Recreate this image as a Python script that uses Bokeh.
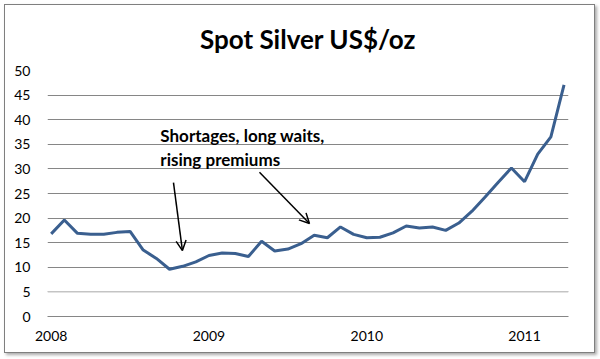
from bokeh.plotting import figure
from bokeh.models import FixedTicker, Range1d, Label, Arrow, OpenHead, Span
from bokeh.embed import file_html
from bokeh.resources import INLINE

# Monthly spot silver, Jan 2008 .. Apr 2011 (US$/oz)
month_index = list(range(40))
silver = [16.8, 19.6, 16.9, 16.7, 16.7, 17.1, 17.3, 13.5, 11.8, 9.6,
          10.2, 11.1, 12.4, 12.9, 12.8, 12.2, 15.3, 13.3, 13.7, 14.8,
          16.5, 16.0, 18.2, 16.7, 16.0, 16.1, 17.0, 18.4, 18.0, 18.2,
          17.5, 19.0, 21.4, 24.3, 27.3, 30.2, 27.4, 33.0, 36.5, 47.1]
year_ticks = [0, 12, 24, 36]
year_labels = ["2008", "2009", "2010", "2011"]
y_ticks = [0, 5, 10, 15, 20, 25, 30, 35, 40, 45, 50]

FONT = "Lato"
GRID = "#868686"

p = figure(width=591, height=349, output_backend="svg", toolbar_location=None,
           x_range=Range1d(-0.28, 39.34), y_range=Range1d(0, 50),
           min_border_left=42, min_border_right=28, min_border_top=65,
           min_border_bottom=38)

p.title.text = "Spot Silver US$/oz"
p.title.align = "center"
p.title.text_font = FONT
p.title.text_font_size = "26px"
p.title.text_font_style = "bold"
p.title.text_color = "black"
p.title.standoff = 31

p.line(month_index, silver, line_color="#3a5f8f", line_width=3)

p.outline_line_color = None
p.background_fill_color = "white"
p.border_fill_color = "white"

p.xgrid.grid_line_color = None
p.ygrid.grid_line_color = GRID
p.ygrid.grid_line_width = 1
p.ygrid.ticker = FixedTicker(ticks=y_ticks)
p.add_layout(Span(location=5, dimension="width", line_color="#d9d9d9", line_width=1.5))

p.yaxis.ticker = FixedTicker(ticks=y_ticks)
p.yaxis.axis_line_color = None
p.yaxis.major_tick_line_color = None
p.yaxis.minor_tick_line_color = None
p.yaxis.major_tick_out = 0
p.yaxis.major_label_standoff = 17
p.yaxis.major_label_text_font = FONT
p.yaxis.major_label_text_font_size = "14px"
p.yaxis.major_label_text_color = "black"

p.xaxis.ticker = FixedTicker(ticks=year_ticks)
p.xaxis.major_label_overrides = {t: l for t, l in zip(year_ticks, year_labels)}
p.xaxis.axis_line_color = GRID
p.xaxis.major_tick_line_color = None
p.xaxis.minor_tick_line_color = None
p.xaxis.major_tick_out = 0
p.xaxis.major_label_standoff = 14
p.xaxis.major_label_text_font = FONT
p.xaxis.major_label_text_font_size = "14px"
p.xaxis.major_label_text_color = "black"

for txt, ty in [("Shortages, long waits,", 38.9), ("rising premiums", 34.1)]:
    p.add_layout(Label(x=8.3, y=ty, text=txt, text_font=FONT, text_font_size="17px",
                       text_font_style="bold", text_baseline="top", text_color="black"))

p.add_layout(Arrow(x_start=9.3, y_start=27.2, x_end=9.98, y_end=13.4,
                   line_width=1.5, line_color="black",
                   end=OpenHead(size=10, line_width=1.5, line_color="black")))
p.add_layout(Arrow(x_start=15.84, y_start=29.3, x_end=19.64, y_end=18.9,
                   line_width=1.5, line_color="black",
                   end=OpenHead(size=10, line_width=1.5, line_color="black")))

p.styles = {"border": "1px solid #7f7f7f", "box-shadow": "2px 2px 3px #aaaaaa",
            "margin-left": "4px", "margin-top": "4px"}

open("out.html", "w").write(file_html(p, INLINE))
